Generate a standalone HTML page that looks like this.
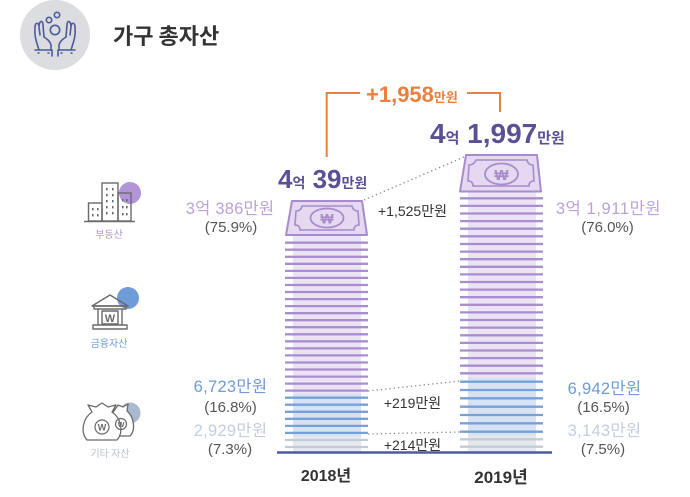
<!DOCTYPE html>
<html><head><meta charset="utf-8">
<style>
html,body{margin:0;padding:0;background:#fff;}
svg{display:block;}
text{font-family:"Liberation Sans","Noto Sans CJK KR",sans-serif;}
.k{font-family:"Noto Sans CJK KR","Liberation Sans",sans-serif;}
</style></head>
<body>
<svg width="690" height="497" viewBox="0 0 690 497" xmlns="http://www.w3.org/2000/svg">
<!-- header icon -->
<circle cx="55" cy="35" r="35" fill="#dcdde1"/>
<g fill="none" stroke="#4b5b9b" stroke-width="1.6" stroke-linecap="round" stroke-linejoin="round">
  <circle cx="49" cy="20" r="2.7"/>
  <circle cx="57" cy="15" r="2.7"/>
  <circle cx="55" cy="30" r="4.7"/>
  <path d="M39,50 C37,43 34,37 35,27 C35,22 39,22 39,27 L40,35 M39,27 C39,20 43,20 43,25 L44,37 C47,39 50,41 51,45 L51,50"/>
  <path d="M35,50 H52 V56 M38,53 h1 M48,53 h1"/>
  <path d="M71,50 C73,43 76,37 75,27 C75,22 71,22 71,27 L70,35 M71,27 C71,20 67,20 67,25 L66,37 C63,39 60,41 59,45 L59,50"/>
  <path d="M75,50 H58 V56 M72,53 h-1 M62,53 h-1"/>
</g>
<text x="113" y="44" font-size="22" font-weight="bold" fill="#333" class="k">가구 총자산</text>

<!-- orange bracket -->
<g stroke="#e8803f" stroke-width="2" fill="none">
  <path d="M326.7,157 V93 H360"/>
  <path d="M467,93 H500 V112"/>
</g>
<text x="366" y="102" fill="#e8803f" font-weight="bold"><tspan font-size="22">+1,958</tspan><tspan font-size="13" class="k">만원</tspan></text>

<!-- totals -->
<text x="278" y="188" fill="#5b4f95" font-weight="bold"><tspan font-size="26">4</tspan><tspan font-size="14" class="k">억</tspan><tspan font-size="26"> 39</tspan><tspan font-size="14" class="k">만원</tspan></text>
<text x="430" y="143" fill="#5b4f95" font-weight="bold"><tspan font-size="28">4</tspan><tspan font-size="15" class="k">억</tspan><tspan font-size="28"> 1,997</tspan><tspan font-size="15" class="k">만원</tspan></text>

<!-- dotted connectors -->
<g stroke="#888" stroke-width="1.3" stroke-dasharray="1.3 3" fill="none">
  <line x1="364" y1="200" x2="464" y2="157"/>
  <line x1="368" y1="391" x2="460" y2="381"/>
  <line x1="368" y1="434" x2="460" y2="432"/>
</g>
<g font-size="14" fill="#333" text-anchor="middle">
  <text x="412.5" y="216">+1,525<tspan class="k">만원</tspan></text>
  <text x="412.5" y="408">+219<tspan class="k">만원</tspan></text>
  <text x="412.5" y="450">+214<tspan class="k">만원</tspan></text>
</g>

<!-- LEFT BAR backgrounds -->
<rect x="293" y="234" width="68" height="160" fill="#ebe3f3"/>
<rect x="293" y="394" width="68" height="42.5" fill="#d6e2f2"/>
<rect x="293" y="436.5" width="68" height="15" fill="#e5e8ee"/>
<g stroke-width="2.3">
<g stroke="#a98dd0">
<line x1="285" x2="368" y1="242.7" y2="242.7"/>
<line x1="285" x2="368" y1="249.7" y2="249.7"/>
<line x1="285" x2="368" y1="256.8" y2="256.8"/>
<line x1="285" x2="368" y1="263.8" y2="263.8"/>
<line x1="285" x2="368" y1="270.9" y2="270.9"/>
<line x1="285" x2="368" y1="277.9" y2="277.9"/>
<line x1="285" x2="368" y1="285" y2="285"/>
<line x1="285" x2="368" y1="292" y2="292"/>
<line x1="285" x2="368" y1="299.1" y2="299.1"/>
<line x1="285" x2="368" y1="306.1" y2="306.1"/>
<line x1="285" x2="368" y1="313.2" y2="313.2"/>
<line x1="285" x2="368" y1="320.2" y2="320.2"/>
<line x1="285" x2="368" y1="327.2" y2="327.2"/>
<line x1="285" x2="368" y1="334.3" y2="334.3"/>
<line x1="285" x2="368" y1="341.3" y2="341.3"/>
<line x1="285" x2="368" y1="348.4" y2="348.4"/>
<line x1="285" x2="368" y1="355.4" y2="355.4"/>
<line x1="285" x2="368" y1="362.5" y2="362.5"/>
<line x1="285" x2="368" y1="369.5" y2="369.5"/>
<line x1="285" x2="368" y1="376.6" y2="376.6"/>
<line x1="285" x2="368" y1="383.6" y2="383.6"/>
<line x1="285" x2="368" y1="390.6" y2="390.6"/>
</g>
<g stroke="#75a0da">
<line x1="285" x2="368" y1="397.7" y2="397.7"/>
<line x1="285" x2="368" y1="404.7" y2="404.7"/>
<line x1="285" x2="368" y1="411.8" y2="411.8"/>
<line x1="285" x2="368" y1="418.8" y2="418.8"/>
<line x1="285" x2="368" y1="425.9" y2="425.9"/>
<line x1="285" x2="368" y1="432.9" y2="432.9"/>
</g>
<g stroke="#c4cbd7">
<line x1="285" x2="368" y1="440" y2="440"/>
<line x1="285" x2="368" y1="447" y2="447"/>
</g>
</g>
<!-- left bill -->
<path d="M292,201 L362,201 L367,235 L286,235 Z" fill="#e4d9f0" stroke="#a78bcc" stroke-width="2" stroke-linejoin="round"/>
<path d="M302,206 L352,206 Q353,211 358,211 L359,225 Q354,225 354,230 L300,230 Q300,225 295,225 L296,211 Q301,211 302,206 Z" fill="none" stroke="#a78bcc" stroke-width="1.6"/>
<ellipse cx="327" cy="218" rx="16.5" ry="9.5" fill="none" stroke="#a78bcc" stroke-width="1.8"/>
<text x="327" y="223.5" font-size="14" font-weight="bold" fill="#a78bcc" text-anchor="middle">₩</text>

<!-- RIGHT BAR backgrounds -->
<rect x="468" y="190" width="68" height="187.5" fill="#ebe3f3"/>
<rect x="468" y="377.5" width="68" height="58" fill="#d6e2f2"/>
<rect x="468" y="435.5" width="68" height="16" fill="#e5e8ee"/>
<g stroke-width="2.3">
<g stroke="#a98dd0">
<line x1="460" x2="543" y1="198.3" y2="198.3"/>
<line x1="460" x2="543" y1="205.9" y2="205.9"/>
<line x1="460" x2="543" y1="213.5" y2="213.5"/>
<line x1="460" x2="543" y1="221.1" y2="221.1"/>
<line x1="460" x2="543" y1="228.7" y2="228.7"/>
<line x1="460" x2="543" y1="236.3" y2="236.3"/>
<line x1="460" x2="543" y1="244" y2="244"/>
<line x1="460" x2="543" y1="251.6" y2="251.6"/>
<line x1="460" x2="543" y1="259.2" y2="259.2"/>
<line x1="460" x2="543" y1="266.8" y2="266.8"/>
<line x1="460" x2="543" y1="274.4" y2="274.4"/>
<line x1="460" x2="543" y1="282" y2="282"/>
<line x1="460" x2="543" y1="289.6" y2="289.6"/>
<line x1="460" x2="543" y1="297.2" y2="297.2"/>
<line x1="460" x2="543" y1="304.8" y2="304.8"/>
<line x1="460" x2="543" y1="312.4" y2="312.4"/>
<line x1="460" x2="543" y1="320" y2="320"/>
<line x1="460" x2="543" y1="327.6" y2="327.6"/>
<line x1="460" x2="543" y1="335.3" y2="335.3"/>
<line x1="460" x2="543" y1="342.9" y2="342.9"/>
<line x1="460" x2="543" y1="350.5" y2="350.5"/>
<line x1="460" x2="543" y1="358.1" y2="358.1"/>
<line x1="460" x2="543" y1="365.7" y2="365.7"/>
<line x1="460" x2="543" y1="373.3" y2="373.3"/>
</g>
<g stroke="#75a0da">
<line x1="460" x2="543" y1="381.7" y2="381.7"/>
<line x1="460" x2="543" y1="390" y2="390"/>
<line x1="460" x2="543" y1="398.3" y2="398.3"/>
<line x1="460" x2="543" y1="406.7" y2="406.7"/>
<line x1="460" x2="543" y1="415" y2="415"/>
<line x1="460" x2="543" y1="423.3" y2="423.3"/>
<line x1="460" x2="543" y1="431.7" y2="431.7"/>
</g>
<g stroke="#c4cbd7">
<line x1="460" x2="543" y1="439.3" y2="439.3"/>
<line x1="460" x2="543" y1="446.7" y2="446.7"/>
</g>
</g>
<!-- right bill -->
<path d="M466,155 L537,155 L541,191.5 L460,191.5 Z" fill="#e4d9f0" stroke="#a78bcc" stroke-width="2" stroke-linejoin="round"/>
<path d="M476,160 L527,160 Q528,165 533,165 L534,181 Q529,181 529,186 L473,186 Q473,181 468,181 L469,165 Q474,165 476,160 Z" fill="none" stroke="#a78bcc" stroke-width="1.6"/>
<ellipse cx="501.5" cy="174" rx="16.5" ry="10.5" fill="none" stroke="#a78bcc" stroke-width="1.8"/>
<text x="501.5" y="180" font-size="15" font-weight="bold" fill="#a78bcc" text-anchor="middle">₩</text>

<!-- axis -->
<line x1="277" y1="452.5" x2="552" y2="452.5" stroke="#4d5c9c" stroke-width="2.5"/>
<text x="326" y="481" font-size="16" font-weight="bold" fill="#333" text-anchor="middle">2018<tspan class="k">년</tspan></text>
<text x="501" y="483" font-size="17" font-weight="bold" fill="#333" text-anchor="middle">2019<tspan class="k">년</tspan></text>

<!-- value labels -->
<g font-size="16.5" text-anchor="middle">
  <text x="230" y="214" fill="#b9a3d6" letter-spacing="0.2">3<tspan class="k">억</tspan> 386<tspan class="k">만원</tspan></text>
  <text x="230.5" y="392" fill="#6f9bd8" letter-spacing="0.3">6,723<tspan class="k">만원</tspan></text>
  <text x="230.5" y="436" fill="#c3cde0" letter-spacing="0.3">2,929<tspan class="k">만원</tspan></text>
  <text x="608.5" y="214" fill="#b9a3d6" letter-spacing="0.6">3<tspan class="k">억</tspan> 1,911<tspan class="k">만원</tspan></text>
  <text x="604.5" y="394" fill="#6f9bd8" letter-spacing="0.3">6,942<tspan class="k">만원</tspan></text>
  <text x="604.5" y="436" fill="#c3cde0" letter-spacing="0.3">3,143<tspan class="k">만원</tspan></text>
</g>
<g font-size="15" text-anchor="middle" fill="#555">
  <text x="231" y="232">(75.9%)</text>
  <text x="230.5" y="412">(16.8%)</text>
  <text x="230" y="454">(7.3%)</text>
  <text x="607.5" y="232">(76.0%)</text>
  <text x="603.5" y="412">(16.5%)</text>
  <text x="603" y="454">(7.5%)</text>
</g>

<!-- building icon -->
<circle cx="130" cy="193" r="11" fill="#b195d6"/>
<g fill="none" stroke="#6a6a6a" stroke-width="1.4">
  <rect x="102" y="183" width="16" height="38"/>
  <rect x="88.5" y="203" width="13.5" height="18"/>
  <rect x="118" y="193" width="13" height="28"/>
  <line x1="84" y1="221.5" x2="135" y2="221.5"/>
</g>
<g fill="#6a6a6a">
  <rect x="106" y="188" width="1.6" height="2.4"/><rect x="112" y="188" width="1.6" height="2.4"/>
  <rect x="106" y="194" width="1.6" height="2.4"/><rect x="112" y="194" width="1.6" height="2.4"/>
  <rect x="106" y="200" width="1.6" height="2.4"/><rect x="112" y="200" width="1.6" height="2.4"/>
  <rect x="106" y="206" width="1.6" height="2.4"/><rect x="112" y="206" width="1.6" height="2.4"/>
  <rect x="106" y="212" width="1.6" height="2.4"/><rect x="112" y="212" width="1.6" height="2.4"/>
  <rect x="92" y="208" width="1.6" height="2.4"/><rect x="97" y="208" width="1.6" height="2.4"/>
  <rect x="92" y="214" width="1.6" height="2.4"/><rect x="97" y="214" width="1.6" height="2.4"/>
  <rect x="122" y="199" width="1.6" height="2.4"/><rect x="126" y="199" width="1.6" height="2.4"/>
  <rect x="122" y="206" width="1.6" height="2.4"/><rect x="126" y="206" width="1.6" height="2.4"/>
  <rect x="122" y="213" width="1.6" height="2.4"/><rect x="126" y="213" width="1.6" height="2.4"/>
</g>
<text x="109" y="238" font-size="10" fill="#b195d6" text-anchor="middle" class="k">부동산</text>

<!-- bank icon -->
<circle cx="128" cy="298" r="11" fill="#6f9bd8"/>
<g fill="none" stroke="#6a6a6a" stroke-width="1.4" stroke-linejoin="round">
  <path d="M92,306 L110,295 L128,306 Z"/>
  <rect x="94" y="306" width="32" height="3"/>
  <line x1="98" y1="309" x2="98" y2="325"/>
  <line x1="122" y1="309" x2="122" y2="325"/>
  <rect x="102" y="311" width="16" height="13"/>
  <rect x="93" y="325" width="34" height="4"/>
</g>
<text x="110" y="322" font-size="11" font-weight="bold" fill="#6a6a6a" text-anchor="middle">W</text>
<text x="109" y="347" font-size="10" fill="#6f9bd8" text-anchor="middle" class="k">금융자산</text>

<!-- money bags icon -->
<circle cx="130" cy="413" r="10.5" fill="#aab8d0"/>
<g fill="#fff" stroke="#6a6a6a" stroke-width="1.3" stroke-linejoin="round">
  <path d="M114,411 L118,405 L123,407 L128,404 L127,411 C134,417 136,430 130,436 L112,436 C108,430 109,417 114,411 Z"/>
  <path d="M92,412 L88,405 L96,407 L102,403 L108,407 L116,405 L112,412 C121,418 124,432 117,440 L87,440 C80,432 83,418 92,412 Z"/>
</g>
<g fill="none" stroke="#6a6a6a" stroke-width="1.2">
  <circle cx="121" cy="424" r="5.5"/>
  <circle cx="102" cy="427" r="7"/>
</g>
<text x="121" y="427" font-size="7" font-weight="bold" fill="#6a6a6a" text-anchor="middle">W</text>
<text x="102" y="430.5" font-size="9" font-weight="bold" fill="#6a6a6a" text-anchor="middle">W</text>
<text x="110" y="457" font-size="10" fill="#b8c0cc" text-anchor="middle" class="k">기타 자산</text>
</svg>
</body></html>
